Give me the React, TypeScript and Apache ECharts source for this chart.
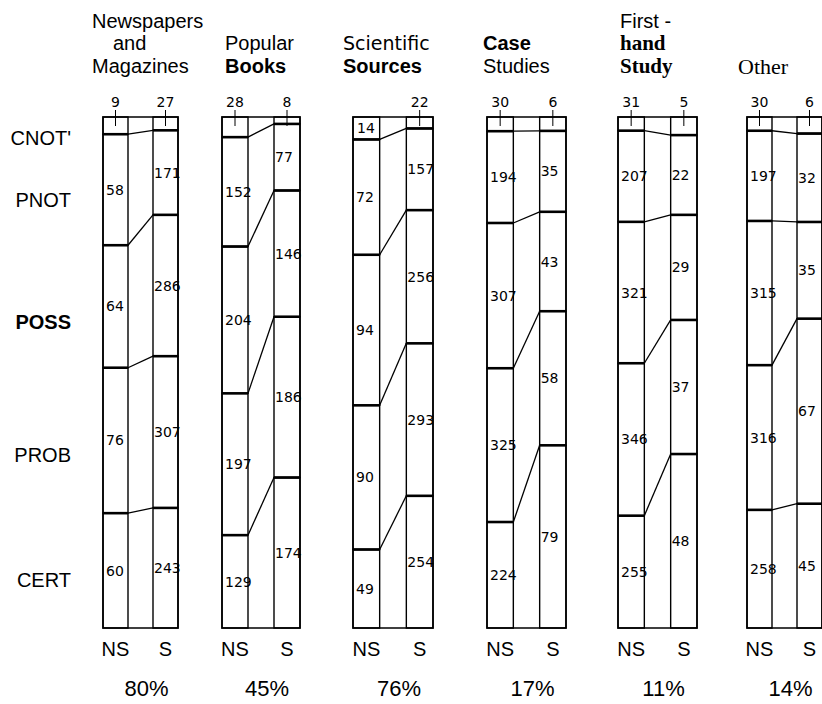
import React, { useEffect, useRef } from 'react';
import * as echarts from 'echarts';

// ---- data ----
const levels = ["CNOT'", 'PNOT', 'POSS', 'PROB', 'CERT'];
const groupLabels = ['NS', 'S'];
const sourceNames = [
  'Newspapers and Magazines',
  'Popular Books',
  'Scientific Sources',
  'Case Studies',
  'First-hand Study',
  'Other',
];
const nsCounts = [
  [9, 58, 64, 76, 60],
  [28, 152, 204, 197, 129],
  [14, 72, 94, 90, 49],
  [30, 194, 307, 325, 224],
  [31, 207, 321, 346, 255],
  [30, 197, 315, 316, 258],
];
const sCounts = [
  [27, 171, 286, 307, 243],
  [8, 77, 146, 186, 174],
  [22, 157, 256, 293, 254],
  [6, 35, 43, 58, 79],
  [5, 22, 29, 37, 48],
  [6, 32, 35, 67, 45],
];
// share of S, as printed under each panel
const sharePct = [80, 45, 76, 17, 11, 14];
// title text per panel, three lines
const titleLines = [
  ['Newspapers', 'and', 'Magazines'],
  ['', 'Popular', 'Books'],
  ['', 'Scientific', 'Sources'],
  ['', 'Case', 'Studies'],
  ['First -', 'hand', 'Study'],
  ['', '', 'Other'],
];

// ---- layout / style ----
const SANS = '"Liberation Sans", Arial, sans-serif';
const SERIF = '"Liberation Serif", "Times New Roman", serif';
const NUMF = '"DejaVu Sans", sans-serif';
const panelLefts = [103, 222, 353, 487, 618, 747];
const panelWidths = [75, 78, 80, 79, 79, 76];
const GRID_TOP = 117;
const GRID_H = 518;
const titleX = [92, 225, 343, 483, 620, 738];
const lineY = [21, 43, 66];
const titleFonts = [
  [`20px ${SANS}`, `20px ${SANS}`, `20px ${SANS}`],
  ['', `20px ${SANS}`, `bold 20px ${SANS}`],
  ['', `19px "DejaVu Sans", sans-serif`, `bold 20px ${SANS}`],
  ['', `bold 20px ${SANS}`, `20px ${SANS}`],
  [`20px ${SANS}`, `bold 21px ${SERIF}`, `bold 21px ${SERIF}`],
  ['', '', `22px ${SERIF}`],
];
const titleIndent = [
  [0, 21, 0],
  [0, 0, 0],
  [0, 0, 0],
  [0, 0, 0],
  [0, 0, 0],
  [0, 0, 0],
];
const rowLabelY = [138, 200, 322, 455, 580];
const topLabelInside = [false, false, true, false, false, false];

function fractions(vals: number[]) {
  const tot = vals.reduce((a, b) => a + b, 0);
  let acc = 0;
  return vals.map((v) => {
    const s = acc / tot;
    acc += v;
    return [s, acc / tot];
  });
}

export default function App() {
  const ref = useRef<HTMLDivElement>(null);
  useEffect(() => {
    if (!ref.current) return;
    const chart = echarts.init(ref.current, null, { renderer: 'svg' });
    const grids: any[] = [];
    const xAxes: any[] = [];
    const yAxes: any[] = [];
    const series: any[] = [];

    sourceNames.forEach((name, p) => {
      const ns = nsCounts[p];
      const s = sCounts[p];
      const nsF = fractions(ns);
      const sF = fractions(s);

      grids.push({
        left: panelLefts[p],
        width: panelWidths[p],
        top: GRID_TOP,
        height: GRID_H,
        show: true,
        borderColor: '#000',
        borderWidth: 1.6,
        backgroundColor: 'transparent',
      });
      xAxes.push({
        type: 'category',
        gridIndex: p,
        data: [groupLabels[0], '', groupLabels[1]],
        boundaryGap: true,
        axisLine: { show: false },
        axisTick: { show: false },
        splitLine: { show: false },
        axisLabel: {
          fontSize: 20,
          fontFamily: SANS,
          color: '#000',
          margin: 11,
          interval: 0,
        },
        name: sharePct[p] + '%',
        nameLocation: 'middle',
        nameGap: 49,
        nameTextStyle: {
          fontSize: 22,
          fontFamily: SANS,
          color: '#000',
          padding: [0, 0, 0, 12],
        },
      });
      yAxes.push({
        type: 'value',
        gridIndex: p,
        min: 0,
        max: 1,
        inverse: true,
        show: false,
      });

      const data = levels.map((lv, k) => [
        1,
        nsF[k][0],
        nsF[k][1],
        sF[k][0],
        sF[k][1],
        ns[k],
        s[k],
        k,
      ]);

      series.push({
        type: 'custom',
        name,
        xAxisIndex: p,
        yAxisIndex: p,
        encode: { x: 0, y: 1 },
        data,
        renderItem: (params: any, api: any) => {
          const nsS = api.value(1);
          const nsE = api.value(2);
          const sS = api.value(3);
          const sE = api.value(4);
          const nsV = api.value(5);
          const sV = api.value(6);
          const k = api.value(7);
          const bw = api.size([1, 0])[0];
          const a = api.coord([0, nsS]);
          const b = api.coord([0, nsE]);
          const c = api.coord([2, sS]);
          const d = api.coord([2, sE]);
          const nsL = a[0] - bw / 2;
          const nsR = a[0] + bw / 2;
          const sL = c[0] - bw / 2;
          const sR = c[0] + bw / 2;
          const top = api.coord([0, 0])[1];
          const children: any[] = [];
          const thin = { stroke: '#000', lineWidth: 1.4, fill: 'none' };
          children.push({
            type: 'rect',
            shape: { x: nsL, y: a[1], width: nsR - nsL, height: b[1] - a[1] },
            style: thin,
          });
          children.push({
            type: 'rect',
            shape: { x: sL, y: c[1], width: sR - sL, height: d[1] - c[1] },
            style: thin,
          });
          if (k < levels.length - 1) {
            children.push({
              type: 'line',
              shape: { x1: nsL, y1: b[1], x2: nsR, y2: b[1] },
              style: { stroke: '#000', lineWidth: 2.6 },
            });
            children.push({
              type: 'line',
              shape: { x1: sL, y1: d[1], x2: sR, y2: d[1] },
              style: { stroke: '#000', lineWidth: 2.6 },
            });
            children.push({
              type: 'line',
              shape: { x1: nsR, y1: b[1], x2: sL, y2: d[1] },
              style: { stroke: '#000', lineWidth: 1.3 },
            });
          }
          const numFont = `14px ${NUMF}`;
          const pushLabel = (txt: string, x: number, y: number) =>
            children.push({
              type: 'text',
              x,
              y,
              style: {
                text: txt,
                font: numFont,
                fill: '#000',
                align: 'left',
                verticalAlign: 'middle',
              },
            });
          const pushTop = (txt: string, cx: number) => {
            children.push({
              type: 'text',
              x: cx,
              y: top - 15,
              style: {
                text: txt,
                font: numFont,
                fill: '#000',
                align: 'center',
                verticalAlign: 'middle',
              },
            });
            children.push({
              type: 'line',
              shape: { x1: cx, y1: top - 7, x2: cx, y2: top + 9 },
              style: { stroke: '#000', lineWidth: 1 },
            });
          };
          if (k === 0) {
            if (topLabelInside[params.seriesIndex]) {
              pushLabel(String(nsV), nsL + 4, (a[1] + b[1]) / 2);
            } else {
              pushTop(String(nsV), (nsL + nsR) / 2);
            }
            pushTop(String(sV), (sL + sR) / 2);
          } else {
            pushLabel(String(nsV), nsL + 3, (a[1] + b[1]) / 2);
            pushLabel(String(sV), sL + 1, (c[1] + d[1]) / 2);
          }
          return { type: 'group', children };
        },
      });
    });

    const elements: any[] = [];
    levels.forEach((lv, i) => {
      elements.push({
        type: 'text',
        x: 71,
        y: rowLabelY[i],
        style: {
          text: lv,
          font: `${lv === 'POSS' ? 'bold ' : ''}20px ${SANS}`,
          fill: '#000',
          align: 'right',
          verticalAlign: 'middle',
        },
      });
    });
    titleLines.forEach((lines, p) => {
      lines.forEach((t, li) => {
        if (!t) return;
        elements.push({
          type: 'text',
          x: titleX[p] + titleIndent[p][li],
          y: lineY[li],
          style: {
            text: t,
            font: titleFonts[p][li],
            fill: '#000',
            align: 'left',
            verticalAlign: 'middle',
          },
        });
      });
    });

    chart.setOption({
      animation: false,
      backgroundColor: '#fff',
      grid: grids,
      xAxis: xAxes,
      yAxis: yAxes,
      series,
      graphic: { elements },
    });
    return () => chart.dispose();
  }, []);
  return (
    <div
      ref={ref}
      style={{ position: 'fixed', left: 0, top: 0, width: 822, height: 704, background: '#fff' }}
    />
  );
}
